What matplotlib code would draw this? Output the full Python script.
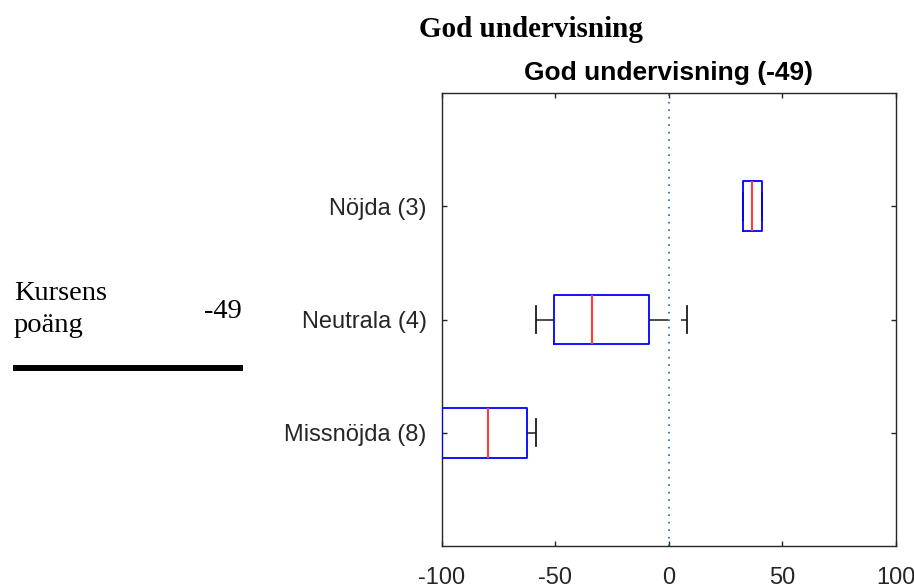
import matplotlib
matplotlib.use("Agg")
import matplotlib.pyplot as plt
from matplotlib.lines import Line2D

# ---- data ----
groups = ["Missnöjda (8)", "Neutrala (4)", "Nöjda (3)"]
whisker_low = [-100.0, -58.6, 32.9]
q1 = [-100.0, -50.4, 32.9]
median = [-79.5, -33.7, 36.8]
q3 = [-62.6, -8.7, 41.2]
whisker_high = [-58.5, 7.9, 41.2]
xticks = [-100, -50, 0, 50, 100]
course_score = -49
title_main = "God undervisning"
subtitle = "God undervisning (-49)"

SANS = ["Liberation Sans", "DejaVu Sans"]
SERIF = ["Liberation Serif", "DejaVu Serif"]
TXT = "#262626"

fig = plt.figure(figsize=(9.14, 5.88), dpi=100)
W, H = 914, 588
ax = fig.add_axes([441.7 / W, 42 / H, (895.7 - 441.7) / W, (546 - 93) / H])

stats = []
for i, g in enumerate(groups):
    stats.append(dict(label=g, whislo=whisker_low[i], q1=q1[i], med=median[i],
                      q3=q3[i], whishi=whisker_high[i], fliers=[]))

positions = list(range(1, len(groups) + 1))
ax.bxp(stats, positions=positions, vert=False, widths=0.44, capwidths=0.235,
       showfliers=False, manage_ticks=False,
       boxprops=dict(color="#0000ff", linewidth=1.3, zorder=4),
       medianprops=dict(color="#ff3b3b", linewidth=1.5, zorder=5),
       whiskerprops=dict(color="#1a1a1a", linewidth=1.1, linestyle=(0, (12.6, 8.3)), zorder=3),
       capprops=dict(color="#1a1a1a", linewidth=1.3, zorder=3))

ax.axvline(0, color=(0, 0.447, 0.741), linewidth=1.2, linestyle=(0, (1, 3.5)), zorder=2)

ax.set_xlim(-100, 100)
ax.set_ylim(0, len(groups) + 1)
ax.set_xticks(xticks)
ax.set_xticklabels([str(t) for t in xticks], fontfamily=SANS)
ax.set_yticks(positions)
ax.set_yticklabels(groups, fontfamily=SANS)
ax.tick_params(axis="both", direction="in", length=3.6, width=1.0, color=TXT,
               labelcolor=TXT, labelsize=17, top=True, right=True)
ax.tick_params(axis="y", pad=10.8)
ax.tick_params(axis="x", pad=15)
for s in ax.spines.values():
    s.set_color(TXT)
    s.set_linewidth(1.0)

ax.set_title(subtitle, fontfamily=SANS, fontsize=19, fontweight="bold", color="black", pad=9.4)

fig.text(531 / W, 1 - 37 / H, title_main, ha="center", va="baseline",
         fontfamily=SERIF, fontsize=21, fontweight="bold")
fig.text(14 / W, 1 - 300 / H, "Kursens", ha="left", va="baseline", fontfamily=SERIF, fontsize=20.5)
fig.text(14 / W, 1 - 331.7 / H, "poäng", ha="left", va="baseline", fontfamily=SERIF, fontsize=20.5)
fig.text(242 / W, 1 - 318 / H, str(course_score), ha="right", va="baseline", fontfamily=SERIF, fontsize=20.5)
fig.add_artist(Line2D([13 / W, 243 / W], [1 - 368 / H, 1 - 368 / H], transform=fig.transFigure,
                      color="black", linewidth=4.3, solid_capstyle="butt"))

fig.savefig("out.png", dpi=100)
